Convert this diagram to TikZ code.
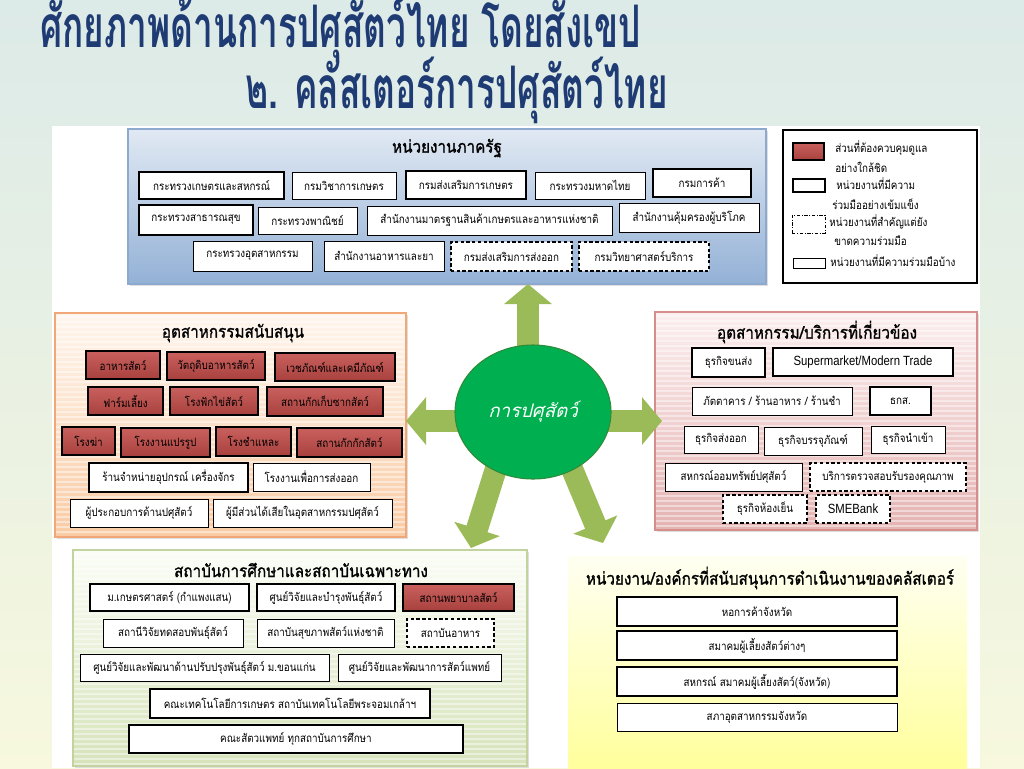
\documentclass[tikz,border=0pt]{standalone}
\usepackage{fontspec}
\setmainfont[Script=Thai]{Loma}
\newfontfamily\thtitle[Script=Thai,FakeStretch=0.6]{Loma}
\newfontfamily\thbox[Script=Thai,FakeStretch=0.86]{Loma}
\newfontfamily\thhead[Script=Thai,FakeStretch=0.88,FakeBold=1.2]{Loma}
\newfontfamily\thit[Script=Thai,FakeSlant=0.25]{Loma}
\newfontfamily\latsans[FakeStretch=0.85]{Liberation Sans}
\usetikzlibrary{shapes.geometric,arrows.meta,shadows}
\definecolor{bgtop}{HTML}{DCEAE8}
\definecolor{bgbot}{HTML}{F7F8DE}
\definecolor{titleblue}{HTML}{1F3B73}
\definecolor{govtop}{HTML}{E1E9F3}
\definecolor{govbot}{HTML}{93B1D6}
\definecolor{govline}{HTML}{8EA9CF}
\definecolor{suptop}{HTML}{FFF6EE}
\definecolor{supbot}{HTML}{F9CBA4}
\definecolor{supline}{HTML}{F0A878}
\definecolor{reltop}{HTML}{FCEFEF}
\definecolor{relbot}{HTML}{E4B3B2}
\definecolor{relline}{HTML}{D58E8C}
\definecolor{edutop}{HTML}{FBFDF6}
\definecolor{edubot}{HTML}{D6E3BA}
\definecolor{eduline}{HTML}{C3D3A0}
\definecolor{orgtop}{HTML}{FFFFF2}
\definecolor{orgbot}{HTML}{FFFF9C}
\definecolor{redtop}{HTML}{C9605D}
\definecolor{redbot}{HTML}{A8413E}
\definecolor{cgreen}{HTML}{00B050}
\definecolor{cgreendk}{HTML}{2E8B3A}
\definecolor{arrgreen}{HTML}{9BBB59}
\newcommand\mkbox[7]{\node[#6, minimum width={(#4-#2)*0.75pt}, minimum height={(#5-#3)*0.75pt}] (#1) at ({(#2+#4)/2},{(#3+#5)/2}) {#7};}
\newcommand\stripes[4]{\begin{scope}\clip (#1,#2) rectangle (#3,#4);
  \pgfmathtruncatemacro\ya{#2+3}\pgfmathtruncatemacro\yb{#2+8}%
  \foreach \yy in {\ya,\yb,...,#4} {\draw[white, opacity=0.45, line width=0.8pt] (#1,\yy) -- (#3,\yy);}
\end{scope}}
\tikzset{
  ib/.style={draw=black, fill=white, line width=0.7pt, inner sep=1pt, font=\thbox\fontsize{8.6}{10}\selectfont},
  ibt/.style={ib, line width=1.6pt},
  ibd/.style={ib, dash pattern=on 2.5pt off 1.8pt, line width=0.9pt},
  ibr/.style={ibt, top color=redtop, bottom color=redbot, drop shadow={shadow xshift=1pt, shadow yshift=-1pt, opacity=0.35}},
  panel/.style={inner sep=0, line width=0.8pt, drop shadow={shadow xshift=1.2pt, shadow yshift=-1.2pt, opacity=0.25}},
  head/.style={inner sep=0, font=\thhead\fontsize{13}{15}\selectfont},
  legtxt/.style={inner sep=0, anchor=west, font=\thbox\fontsize{8.6}{10}\selectfont},
  bigarr/.style={line width=16.5pt, draw=arrgreen, -{Triangle[width=35pt,length=15pt]}},
}
\begin{document}
\begin{tikzpicture}[x=0.75pt,y=-0.75pt]
\useasboundingbox (0,0) rectangle (1024,768);
\shade[top color=bgtop, bottom color=bgbot] (0,0) rectangle (1024,768);
\fill[white] (52,126) rectangle (980,768);
% titles
\node[anchor=base west, inner sep=0, text=titleblue, font=\thtitle\bfseries\fontsize{44}{50}\selectfont] (t1) at (40,47) {ศักยภาพด้านการปศุสัตว์ไทย โดยสังเขป};
\node[anchor=base west, inner sep=0, text=titleblue, font=\thtitle\bfseries\fontsize{44}{50}\selectfont] (t2) at (245,108) {๒. คลัสเตอร์การปศุสัตว์ไทย};
% panels
\mkbox{gov}{128}{129}{766}{284}{panel, draw=govline, top color=govtop, bottom color=govbot}{}
\mkbox{sup}{55}{313}{406}{537}{panel, draw=supline, top color=suptop, bottom color=supbot}{}
\stripes{56}{314}{405}{536}
\mkbox{rel}{655}{312}{977}{530}{panel, draw=relline, top color=reltop, bottom color=relbot}{}
\stripes{656}{313}{976}{529}
\mkbox{edu}{73}{550}{527}{766}{panel, draw=eduline, top color=edutop, bottom color=edubot}{}
\stripes{74}{551}{526}{765}
\mkbox{org}{568}{556}{967}{768}{inner sep=0, top color=orgtop, bottom color=orgbot}{}
\mkbox{leg}{783}{130}{977}{283}{inner sep=0, draw=black, fill=white, line width=0.8pt}{}
% headings
\node[head] (govh) at (447,148) {หน่วยงานภาครัฐ};
\node[head] (suph) at (233,333) {อุตสาหกรรมสนับสนุน};
\node[head] (relh) at (817,332) {อุตสาหกรรม/บริการที่เกี่ยวข้อง};
\node[head] (eduh) at (301,570) {สถาบันการศึกษาและสถาบันเฉพาะทาง};
\node[head] (orgh) at (770,578) {หน่วยงาน/องค์กรที่สนับสนุนการดำเนินงานของคลัสเตอร์};
% government
\mkbox{g1}{139}{172}{284}{199}{ibt}{กระทรวงเกษตรและสหกรณ์}
\mkbox{g2}{292}{172}{396}{199}{ib}{กรมวิชาการเกษตร}
\mkbox{g3}{406}{171}{526}{199}{ibt}{กรมส่งเสริมการเกษตร}
\mkbox{g4}{535}{172}{645}{199}{ib}{กระทรวงมหาดไทย}
\mkbox{g5}{653}{169}{751}{197}{ibt}{กรมการค้า}
\mkbox{g6}{139}{205}{253}{235}{ibt}{กระทรวงสาธารณสุข}
\mkbox{g7}{258}{207}{357}{234}{ib}{กระทรวงพาณิชย์}
\mkbox{g8}{367}{206}{612}{235}{ib}{สำนักงานมาตรฐานสินค้าเกษตรและอาหารแห่งชาติ}
\mkbox{g9}{619}{203}{759}{232}{ib}{สำนักงานคุ้มครองผู้บริโภค}
\mkbox{g10}{193}{241}{312}{271}{ib}{กระทรวงอุตสาหกรรม}
\mkbox{g11}{324}{241}{444}{271}{ib}{สำนักงานอาหารและยา}
\mkbox{g12}{451}{242}{572}{271}{ibd}{กรมส่งเสริมการส่งออก}
\mkbox{g13}{579}{242}{709}{271}{ibd}{กรมวิทยาศาสตร์บริการ}
% legend
\mkbox{lg1}{793}{143}{824}{160}{ibr}{}
\node[legtxt] (lt1) at (835,148) {ส่วนที่ต้องควบคุมดูแล};
\node[legtxt] (lt2) at (835,167) {อย่างใกล้ชิด};
\mkbox{lg2}{793}{179}{825}{192}{ibt}{}
\node[legtxt] (lt3) at (836,184) {หน่วยงานที่มีความ};
\node[legtxt] (lt4) at (832,204) {ร่วมมืออย่างเข้มแข็ง};
\mkbox{lg3}{792}{215}{825}{233}{ib, dash pattern=on 2.5pt off 1.2pt on 0.8pt off 1.2pt}{}
\node[legtxt] (lt5) at (829,222) {หน่วยงานที่สำคัญแต่ยัง};
\node[legtxt] (lt6) at (834,241) {ขาดความร่วมมือ};
\mkbox{lg4}{793}{258}{825}{268}{ib}{}
\node[legtxt] (lt7) at (830,261) {หน่วยงานที่มีความร่วมมือบ้าง};
% supporting industries
\mkbox{s1}{86}{351}{160}{379}{ibr}{อาหารสัตว์}
\mkbox{s2}{167}{352}{265}{380}{ibr}{วัตถุดิบอาหารสัตว์}
\mkbox{s3}{275}{353}{395}{381}{ibr}{เวชภัณฑ์และเคมีภัณฑ์}
\mkbox{s4}{88}{387}{163}{415}{ibr}{ฟาร์มเลี้ยง}
\mkbox{s5}{170}{387}{258}{415}{ibr}{โรงฟักไข่สัตว์}
\mkbox{s6}{267}{387}{383}{416}{ibr}{สถานกักเก็บซากสัตว์}
\mkbox{s7}{62}{427}{115}{455}{ibr}{โรงฆ่า}
\mkbox{s8}{121}{428}{210}{457}{ibr}{โรงงานแปรรูป}
\mkbox{s9}{216}{427}{291}{456}{ibr}{โรงชำแหละ}
\mkbox{s10}{297}{428}{402}{457}{ibr}{สถานกักกักสัตว์}
\mkbox{s11}{89}{463}{248}{492}{ib, line width=1.1pt}{ร้านจำหน่ายอุปกรณ์ เครื่องจักร}
\mkbox{s12}{253}{463}{370}{491}{ib}{โรงงานเพื่อการส่งออก}
\mkbox{s13}{70}{499}{208}{527}{ib}{ผู้ประกอบการด้านปศุสัตว์}
\mkbox{s14}{213}{499}{392}{527}{ib}{ผู้มีส่วนได้เสียในอุตสาหกรรมปศุสัตว์}
% related industries
\mkbox{r1}{692}{348}{765}{377}{ibt}{ธุรกิจขนส่ง}
\mkbox{r2}{773}{348}{953}{376}{ibt, font=\latsans\fontsize{10}{12}\selectfont}{Supermarket/Modern Trade}
\mkbox{r3}{692}{387}{852}{415}{ib}{ภัตตาคาร / ร้านอาหาร / ร้านชำ}
\mkbox{r4}{870}{387}{931}{415}{ibt}{ธกส.}
\mkbox{r5}{684}{426}{758}{453}{ib}{ธุรกิจส่งออก}
\mkbox{r6}{764}{427}{862}{455}{ib}{ธุรกิจบรรจุภัณฑ์}
\mkbox{r7}{871}{426}{945}{453}{ib}{ธุรกิจนำเข้า}
\mkbox{r8}{665}{463}{802}{491}{ib}{สหกรณ์ออมทรัพย์ปศุสัตว์}
\mkbox{r9}{810}{463}{966}{491}{ibd}{บริการตรวจสอบรับรองคุณภาพ}
\mkbox{r10}{723}{495}{807}{523}{ibd}{ธุรกิจห้องเย็น}
\mkbox{r11}{816}{495}{890}{523}{ibd, font=\latsans\fontsize{10}{12}\selectfont}{SMEBank}
% education
\mkbox{e1}{90}{584}{249}{611}{ibt}{ม.เกษตรศาสตร์ (กำแพงแสน)}
\mkbox{e2}{257}{584}{395}{611}{ibt}{ศูนย์วิจัยและบำรุงพันธุ์สัตว์}
\mkbox{e3}{403}{584}{514}{611}{ibr}{สถานพยาบาลสัตว์}
\mkbox{e4}{103}{619}{243}{647}{ib}{สถานีวิจัยทดสอบพันธุ์สัตว์}
\mkbox{e5}{257}{619}{394}{647}{ib}{สถาบันสุขภาพสัตว์แห่งชาติ}
\mkbox{e6}{407}{619}{494}{647}{ibd}{สถาบันอาหาร}
\mkbox{e7}{80}{654}{329}{681}{ib}{ศูนย์วิจัยและพัฒนาด้านปรับปรุงพันธุ์สัตว์ ม.ขอนแก่น}
\mkbox{e8}{338}{654}{501}{681}{ib}{ศูนย์วิจัยและพัฒนาการสัตว์แพทย์}
\mkbox{e9}{150}{689}{430}{718}{ibt}{คณะเทคโนโลยีการเกษตร สถาบันเทคโนโลยีพระจอมเกล้าฯ}
\mkbox{e10}{129}{725}{463}{753}{ibt}{คณะสัตวแพทย์ ทุกสถาบันการศึกษา}
% supporting organisations
\mkbox{o1}{617}{597}{897}{626}{ibt}{หอการค้าจังหวัด}
\mkbox{o2}{617}{631}{897}{660}{ibt}{สมาคมผู้เลี้ยงสัตว์ต่างๆ}
\mkbox{o3}{617}{667}{897}{696}{ibt}{สหกรณ์ สมาคมผู้เลี้ยงสัตว์(จังหวัด)}
\mkbox{o4}{617}{703}{897}{731}{ib}{สภาอุตสาหกรรมจังหวัด}
% centre and arrows
\node[ellipse, inner sep=0, minimum width={156*0.75pt}, minimum height={134*0.75pt}] (c) at (533,412) {};
\coordinate (tu) at (528,284);
\coordinate (tl) at (406,421);
\coordinate (tr) at (662,421);
\coordinate (sdl) at (505,440);
\coordinate (tdl) at (471,548);
\coordinate (sdr) at (560,440);
\coordinate (tdr) at (603,543);
\draw[bigarr] (tu |- c) -- (tu);
\draw[bigarr] (tl -| c) -- (tl);
\draw[bigarr] (tr -| c) -- (tr);
\draw[bigarr] (sdl) -- (tdl);
\draw[bigarr] (sdr) -- (tdr);
\node[ellipse, inner sep=0, fill=cgreen, draw=cgreendk, line width=0.8pt, minimum width={156*0.75pt}, minimum height={134*0.75pt}, text=white, font=\thit\fontsize{14}{16}\selectfont] (cc) at (c) {การปศุสัตว์};
\end{tikzpicture}
\end{document}
